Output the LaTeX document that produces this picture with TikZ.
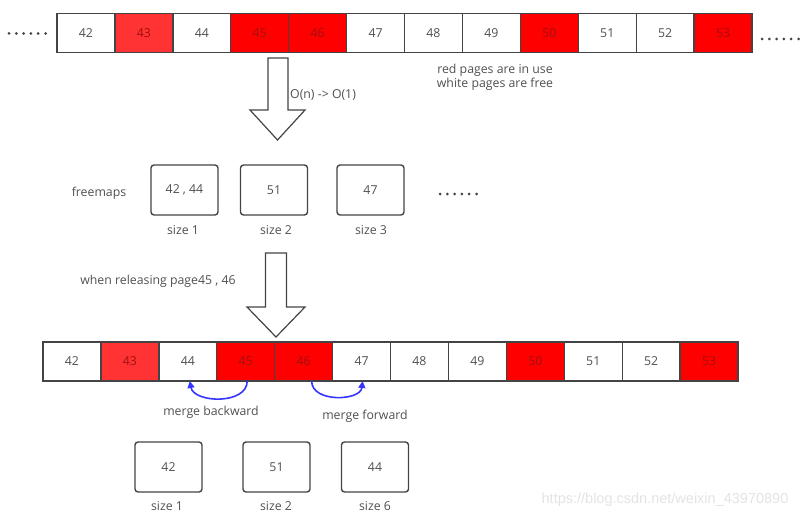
\documentclass[tikz,border=0pt]{standalone}
\usepackage{fontspec}
\setmainfont{Open Sans}
\newfontfamily\markfont{Liberation Sans}
\usetikzlibrary{arrows.meta}
\definecolor{cellred}{HTML}{FF0000}
\definecolor{lightred}{HTML}{FF3333}
\definecolor{linegray}{HTML}{444444}
\definecolor{textgray}{HTML}{505050}
\definecolor{redtext}{HTML}{A01010}
\definecolor{mergeblue}{HTML}{3535FF}
\tikzset{
  page/.style={draw=linegray, line width=1.4pt, minimum width=57.92pt, minimum height=39pt, inner sep=0pt, outer sep=0pt, text=textgray},
  mapbox/.style={draw=linegray, line width=1.4pt, rounded corners=3pt, minimum width=67pt, minimum height=50pt, inner sep=0pt, text=textgray},
  lbl/.style={text=textgray, inner sep=1pt},
  bigarrow/.style={draw=linegray, line width=1.2pt, fill=white, line join=miter},
  mergearrow/.style={draw=mergeblue, line width=1.6pt, -{Triangle[length=7pt,width=7pt]}},
}
\begin{document}
\begin{tikzpicture}[x=1pt,y=-1pt,font=\fontsize{12.3}{14}\selectfont]
\useasboundingbox (0,0) rectangle (810,519);

% top row of pages
\foreach \n/\c/\t [count=\i] in {42/white/textgray,43/lightred/redtext,44/white/textgray,45/cellred/redtext,46/cellred/redtext,47/white/textgray,48/white/textgray,49/white/textgray,50/cellred/redtext,51/white/textgray,52/white/textgray,53/cellred/redtext}
  \node[page, fill=\c, text=\t] (t\n) at ({57+57.92*(\i-0.5)},33.3) {\n};
\foreach \k in {0,...,5} {
  \fill[linegray] ({9+7.3*\k},33.5) circle [radius=1.5pt];
  \fill[linegray] ({762+7.3*\k},39) circle [radius=1.5pt];
}

% first arrow
\draw[bigarrow] (268,58) -- (288,58) -- (288,110) -- (305,110) -- (277.5,140) -- (250,110) -- (268,110) -- cycle;
\node[lbl, anchor=west] (cost) at (289,95) {O(n) -> O(1)};
\node[lbl, align=center] (legend) at (495,77) {red pages are in use\\white pages are free};

% freemaps
\node[lbl] (freemaps) at (99,193) {freemaps};
\node[mapbox] (f1) at (184.5,190) {42 , 44};
\node[mapbox] (f2) at (274,190) {51};
\node[mapbox] (f3) at (370.5,190) {47};
\node[lbl] (s1) at (183,230) {size 1};
\node[lbl] (s2) at (276,230) {size 2};
\node[lbl] (s3) at (371,230) {size 3};
\foreach \k in {0,...,5}
  \fill[linegray] ({440+7.3*\k},194) circle [radius=1.5pt];

% second arrow
\node[lbl] (release) at (158,281) {when releasing page45 , 46};
\draw[bigarrow] (265.5,253) -- (286.5,253) -- (286.5,307) -- (305,307) -- (276,337) -- (247,307) -- (265.5,307) -- cycle;

% bottom row of pages
\foreach \n/\c/\t [count=\i] in {42/white/textgray,43/lightred/redtext,44/white/textgray,45/cellred/redtext,46/cellred/redtext,47/white/textgray,48/white/textgray,49/white/textgray,50/cellred/redtext,51/white/textgray,52/white/textgray,53/cellred/redtext}
  \node[page, fill=\c, text=\t] (b\n) at ({43+57.92*(\i-0.5)},361.5) {\n};

\draw[mergearrow] ([xshift=1.5pt]b45.south) .. controls +(0,24) and +(4,22) .. ([xshift=2pt]b44.south);
\draw[mergearrow] ([xshift=8pt]b46.south) .. controls +(0,22) and +(-2,20) .. ([xshift=1pt]b47.south);
\node[lbl] (back) at (211,412) {merge backward};
\node[lbl] (fwd) at (365,416) {merge forward};

\node[mapbox] (g1) at (168.5,467) {42};
\node[mapbox] (g2) at (276.5,467) {51};
\node[mapbox] (g3) at (375,467) {44};
\node[lbl] (u1) at (167,506) {size 1};
\node[lbl] (u2) at (276,506) {size 2};
\node[lbl] (u3) at (375,506) {size 6};

\node[text=gray!22, font=\markfont\fontsize{14.5}{16}\selectfont] (mark) at (665,500) {https://blog.csdn.net/weixin\_43970890};
\end{tikzpicture}
\end{document}
